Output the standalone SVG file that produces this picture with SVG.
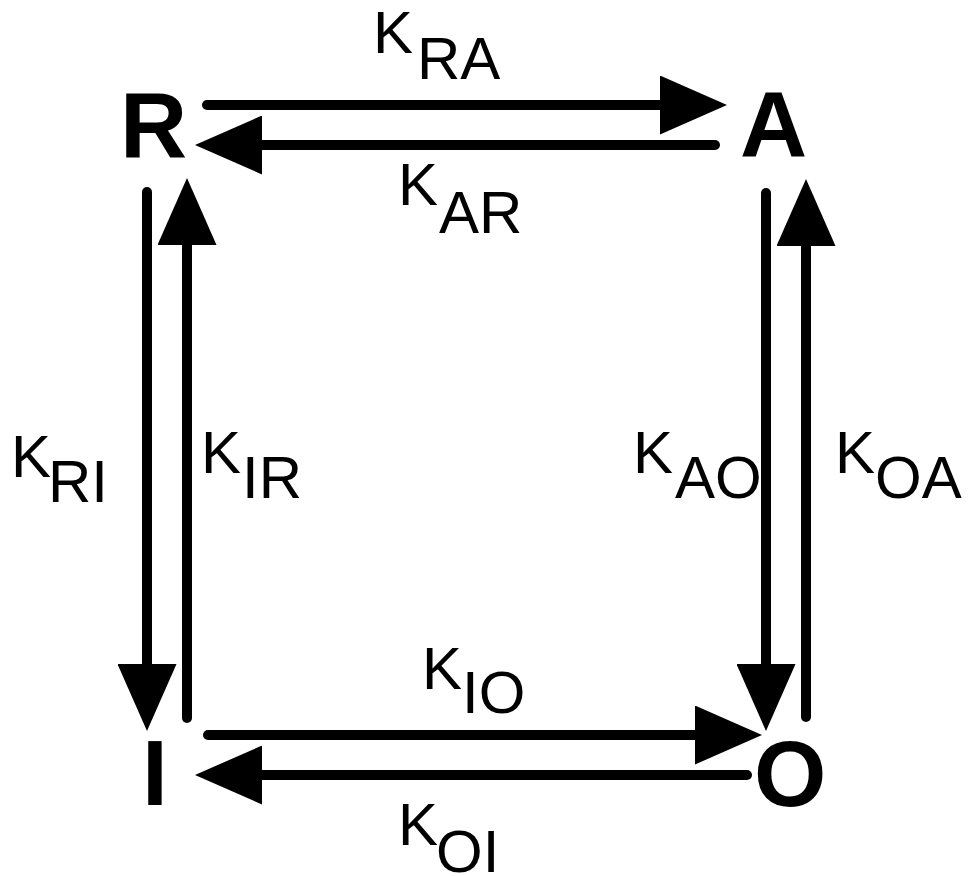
<svg xmlns="http://www.w3.org/2000/svg" width="970" height="876" viewBox="0 0 970 876">
  <defs>
    <marker id="head" markerUnits="userSpaceOnUse" viewBox="0 0 67 59" refX="1" refY="29.5" markerWidth="67" markerHeight="59" orient="auto">
      <path d="M0,0 L67,29.5 L0,59 Z" fill="#000"/>
    </marker>
    <style>
      .node { font-family: "Liberation Sans", Arial, sans-serif; font-weight: bold; font-size: 93px; fill: #000; }
      .lbl { font-family: "Liberation Sans", Arial, sans-serif; font-size: 60px; fill: #000; }
      .arr { stroke: #000; stroke-width: 10; stroke-linecap: round; fill: none; marker-end: url(#head); }
    </style>
  </defs>
  <rect width="970" height="876" fill="#fff"/>

  <g id="node-R"><text class="node" x="120" y="157">R</text></g>
  <g id="node-A"><text class="node" x="740" y="156">A</text></g>
  <g id="node-I"><text class="node" x="142" y="805">I</text></g>
  <g id="node-O"><text class="node" x="754" y="806">O</text></g>

  <g id="connectors">
    <line class="arr" x1="207" y1="105" x2="661" y2="105"/>
    <line class="arr" x1="715" y1="145" x2="261" y2="145"/>
    <line class="arr" x1="147" y1="192" x2="147" y2="665"/>
    <line class="arr" x1="187" y1="718" x2="187" y2="244"/>
    <line class="arr" x1="766" y1="193" x2="766" y2="665"/>
    <line class="arr" x1="806" y1="717" x2="806" y2="245"/>
    <line class="arr" x1="208" y1="735" x2="696" y2="735"/>
    <line class="arr" x1="747" y1="775" x2="261" y2="775"/>
  </g>

  <g id="labels">
    <text class="lbl" x="373" y="53">K<tspan x="417" y="79">RA</tspan></text>
    <text class="lbl" x="398" y="205">K<tspan x="439" y="233">AR</tspan></text>
    <text class="lbl" x="11" y="477">K<tspan x="48" y="502">RI</tspan></text>
    <text class="lbl" x="201" y="473">K<tspan x="242" y="498">IR</tspan></text>
    <text class="lbl" x="633" y="473">K<tspan x="675" y="498">AO</tspan></text>
    <text class="lbl" x="835" y="473">K<tspan x="875" y="498">OA</tspan></text>
    <text class="lbl" x="422" y="689">K<tspan x="462" y="713">IO</tspan></text>
    <text class="lbl" x="398" y="845">K<tspan x="436" y="872">OI</tspan></text>
  </g>
</svg>
